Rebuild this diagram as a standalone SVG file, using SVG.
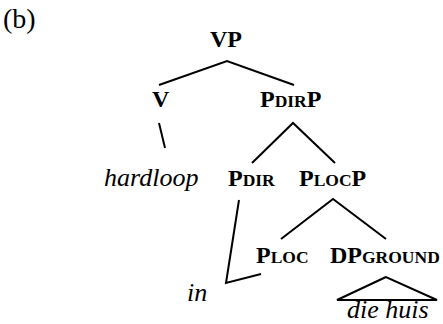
<svg xmlns="http://www.w3.org/2000/svg" width="443" height="324" viewBox="0 0 443 324">
<style>
text{font-family:'Liberation Serif',serif;fill:#000}
.lbl{font-size:24px;font-weight:bold}
.sc{font-size:17.5px}
.word{font-size:26px;font-style:italic}
.tag{font-size:28px}
.edge{stroke:#000;stroke-width:2;fill:none}
</style>
<rect width="443" height="324" fill="#fff"/>
<text class="tag" x="3" y="28">(b)</text>
<g id="connectors">
<polyline class="edge" points="159,85 227,61 294,85"/>
<line class="edge" x1="159" y1="123" x2="165" y2="148"/>
<polyline class="edge" points="252,163 293,123 335,163"/>
<polyline class="edge" points="281,239 333,199 386,239"/>
<polyline class="edge" points="239,200 226,283 261,274"/>
<polygon class="edge" points="386,277 337,300 437,300"/>
</g>
<g id="VP"><text class="lbl" x="210" y="47">VP</text></g>
<g id="V"><text class="lbl" x="152" y="107">V</text></g>
<g id="PdirP"><text class="lbl" x="260" y="107">P<tspan class="sc">DIR</tspan>P</text></g>
<g id="hardloop"><text class="word" x="104" y="186">hardloop</text></g>
<g id="Pdir"><text class="lbl" x="228" y="186">P<tspan class="sc">DIR</tspan></text></g>
<g id="PlocP"><text class="lbl" x="299" y="186">P<tspan class="sc">LOC</tspan>P</text></g>
<g id="Ploc"><text class="lbl" x="256" y="263">P<tspan class="sc">LOC</tspan></text></g>
<g id="DPground"><text class="lbl" x="330" y="263">DP<tspan class="sc">GROUND</tspan></text></g>
<g id="in"><text class="word" x="187" y="301">in</text></g>
<g id="diehuis"><text class="word" x="347" y="318" font-size="25">die huis</text></g>
</svg>
